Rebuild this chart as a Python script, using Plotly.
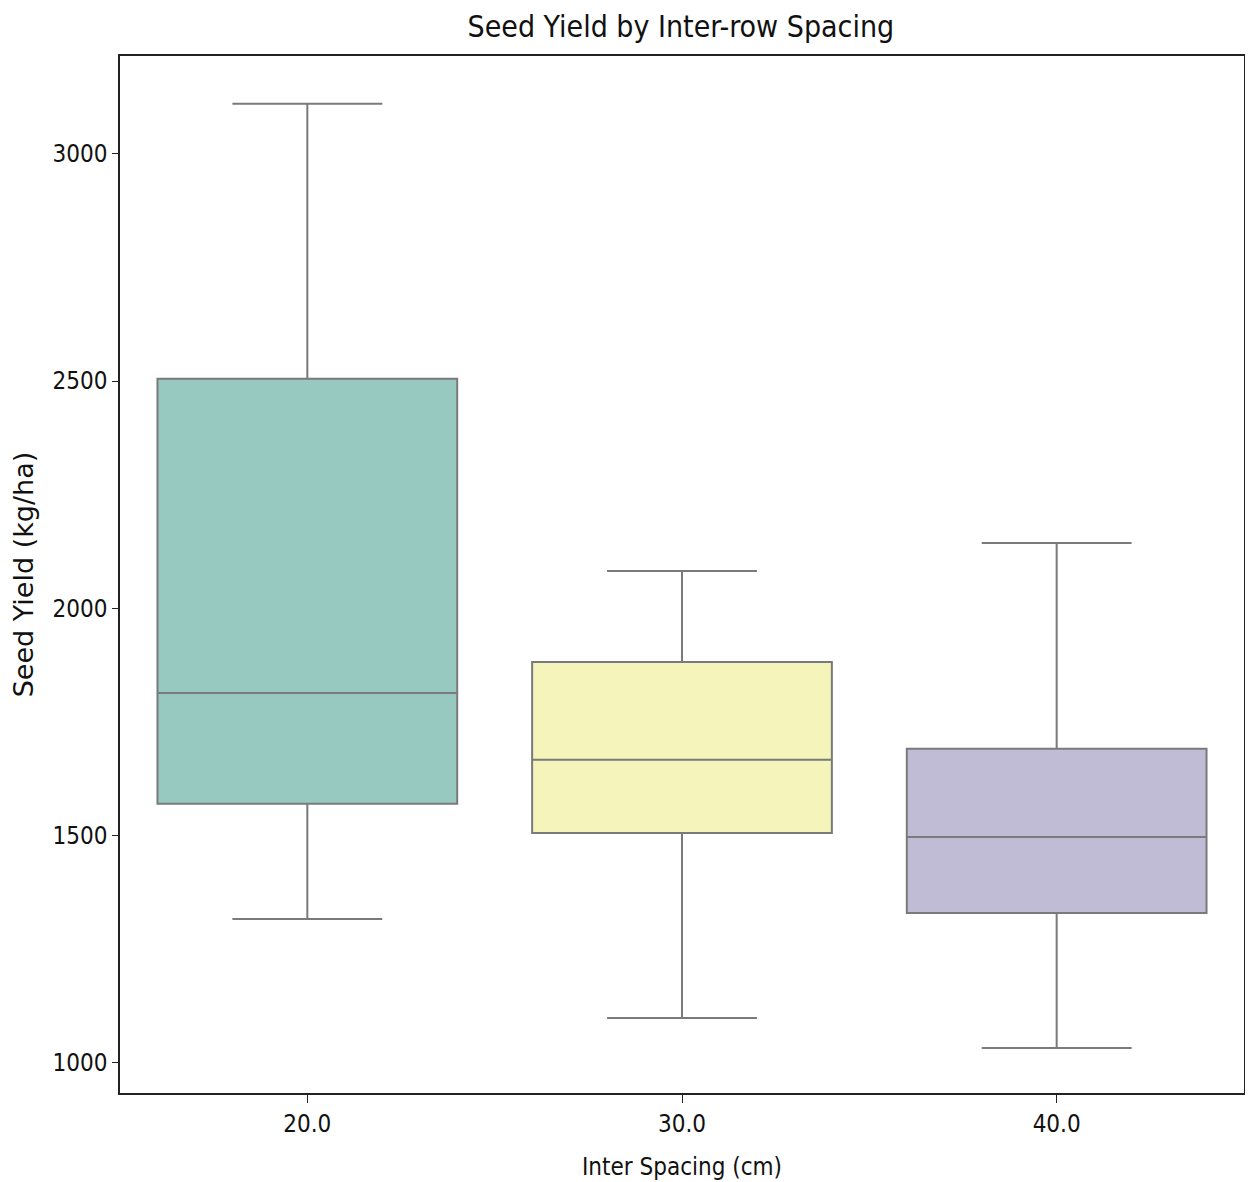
import plotly.graph_objects as go

categories = ["20.0", "30.0", "40.0"]
lower_whisker = [1317, 1099, 1033]
q1_values = [1570, 1506, 1330]
median_values = [1814, 1667, 1497]
q3_values = [2505, 1882, 1691]
upper_whisker = [3110, 2082, 2144]
box_colors = ["#98c9c1", "#f4f4bb", "#c0bcd6"]
y_ticks = [1000, 1500, 2000, 2500, 3000]

COND = "DejaVu Sans Condensed, Liberation Sans Narrow, DejaVu Sans"
LINE = "#7a7a7a"

fig = go.Figure()
for i, cat in enumerate(categories):
    fig.add_trace(go.Box(
        x=[cat],
        q1=[q1_values[i]],
        median=[median_values[i]],
        q3=[q3_values[i]],
        lowerfence=[lower_whisker[i]],
        upperfence=[upper_whisker[i]],
        fillcolor=box_colors[i],
        line=dict(color=LINE, width=2),
        width=0.8,
        whiskerwidth=0.5,
        boxpoints=False,
        showlegend=False,
        hoverinfo="skip",
    ))

fig.update_layout(
    width=1253, height=1182,
    margin=dict(l=108, r=17, t=48, b=97),
    paper_bgcolor="white",
    plot_bgcolor="white",
    boxmode="overlay",
    title=dict(text="Seed Yield by Inter-row Spacing", x=0.537, xanchor="center",
               y=0.984, yanchor="middle",
               font=dict(family=COND, size=30, color="#111111")),
    font=dict(family=COND, color="#111111"),
)
fig.update_xaxes(
    type="category", categoryorder="array", categoryarray=categories,
    range=[-0.5, 2.5],
    showline=True, linecolor="#222222", linewidth=1.5, mirror=True,
    ticks="outside", ticklen=8, tickcolor="#222222",
    showgrid=False, zeroline=False,
    tickfont=dict(family=COND, size=24, color="#111111"),
    title=dict(text="Inter Spacing (cm)", standoff=22,
               font=dict(family=COND, size=24, color="#111111")),
)
fig.update_yaxes(
    range=[934, 3215],
    tickvals=y_ticks, ticktext=[str(v) for v in y_ticks],
    showline=True, linecolor="#222222", linewidth=1.5, mirror=True,
    ticks="outside", ticklen=6, tickcolor="#222222",
    showgrid=False, zeroline=False,
    tickfont=dict(family=COND, size=24, color="#111111"),
    title=dict(text="Seed Yield (kg/ha)", standoff=14,
               font=dict(family="DejaVu Sans", size=27, color="#111111")),
)

fig.write_html("out.html")
